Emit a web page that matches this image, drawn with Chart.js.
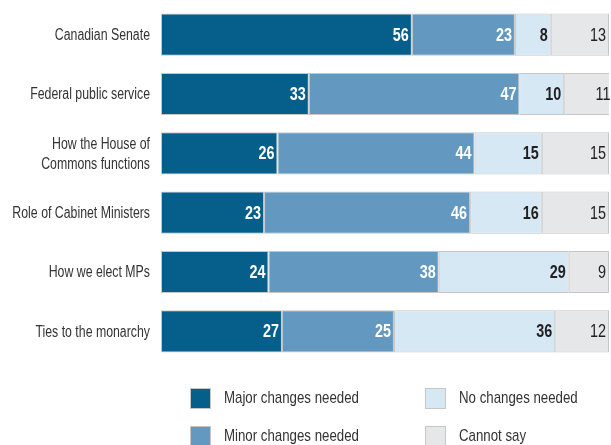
<!DOCTYPE html>
<html><head><meta charset="utf-8">
<script src="https://cdn.jsdelivr.net/npm/chart.js@4"></script>
<style>html,body{margin:0;padding:0;background:#fff}#w{width:611px;height:445px;position:relative}</style>
</head><body><div id="w"><canvas id="c"></canvas></div>
<script>
const categories = ["Canadian Senate", "Federal public service", ["How the House of", "Commons functions"], "Role of Cabinet Ministers", "How we elect MPs", "Ties to the monarchy"];
const seriesNames = ["Major changes needed", "Minor changes needed", "No changes needed", "Cannot say"];
const major = [56, 33, 26, 23, 24, 27];
const minor = [23, 47, 44, 46, 38, 25];
const none = [8, 10, 15, 16, 29, 36];
const cannot = [13, 11, 15, 15, 9, 12];

const FONT = "'Liberation Sans', Arial, sans-serif";
const colors = ["#065f8b", "#6399c1", "#d6e8f4", "#e6e7e8"];
const labelColors = ["#ffffff", "#ffffff", "#231f20", "#231f20"];
const labelWeights = ["bold", "bold", "bold", "normal"];

function condText(ctx, text, x, y, align, sx) {
  ctx.save();
  ctx.translate(x, y);
  ctx.scale(sx, 1);
  ctx.textAlign = align;
  ctx.textBaseline = 'middle';
  ctx.fillText(text, 0, 0);
  ctx.restore();
}

const valueLabels = {
  id: 'valueLabels',
  afterDatasetsDraw(chart) {
    const ctx = chart.ctx;
    chart.data.datasets.forEach((ds, di) => {
      const meta = chart.getDatasetMeta(di);
      meta.data.forEach((el, i) => {
        ctx.font = labelWeights[di] + " 18px " + FONT;
        ctx.fillStyle = labelColors[di];
        condText(ctx, String(ds.data[i]), el.x - 3, el.y + 1, 'right', 0.8);
      });
    });
  }
};

const catLabels = {
  id: 'catLabels',
  afterDraw(chart) {
    const ctx = chart.ctx;
    const sc = chart.scales.y;
    ctx.font = "16px " + FONT;
    ctx.fillStyle = '#333333';
    chart.data.labels.forEach((lab, i) => {
      const y = sc.getPixelForTick(i);
      const lines = Array.isArray(lab) ? lab : [lab];
      const lh = 20;
      lines.forEach((ln, k) => {
        condText(ctx, ln, sc.right - 11, y + 1 + (k - (lines.length - 1) / 2) * lh, 'right', 0.77);
      });
    });
  }
};

const gridLegend = {
  id: 'gridLegend',
  afterDraw(chart) {
    const ctx = chart.ctx;
    const pos = [[190, 388], [190, 426], [425, 388], [425, 426]];
    chart.data.datasets.forEach((ds, di) => {
      const [x, y] = pos[di];
      ctx.fillStyle = ds.backgroundColor;
      ctx.fillRect(x, y, 20, 20);
      ctx.strokeStyle = '#c6c6c6';
      ctx.lineWidth = 1;
      ctx.strokeRect(x + 0.5, y + 0.5, 20, 20);
      ctx.fillStyle = '#333333';
      ctx.font = "17px " + FONT;
      condText(ctx, ds.label, x + 34, y + 10, 'left', 0.78);
    });
  }
};

const series = [major, minor, none, cannot];
new Chart(document.getElementById('c'), {
  type: 'bar',
  data: {
    labels: categories,
    datasets: series.map((d, i) => ({
      label: seriesNames[i],
      data: d,
      backgroundColor: colors[i],
      borderColor: '#c6c6c6',
      borderWidth: 1,
      borderSkipped: false,
      barPercentage: 0.71,
      categoryPercentage: 1
    }))
  },
  options: {
    indexAxis: 'y',
    responsive: true,
    maintainAspectRatio: false,
    animation: false,
    layout: { padding: { top: 5, bottom: 84, right: 2, left: 0 } },
    plugins: { legend: { display: false }, tooltip: { enabled: false } },
    scales: {
      x: { stacked: true, min: 0, max: 100, display: false },
      y: {
        stacked: true,
        grid: { display: false },
        border: { display: false },
        ticks: { display: false },
        afterFit(scale) { scale.width = 161; }
      }
    }
  },
  plugins: [valueLabels, catLabels, gridLegend]
});
</script></body></html>
